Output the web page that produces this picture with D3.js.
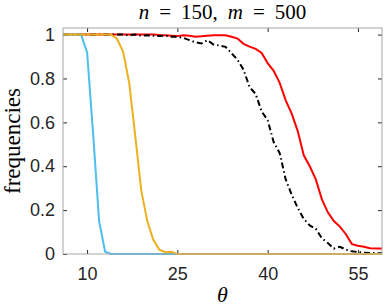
<!DOCTYPE html>
<meta charset="utf-8">
<style>
  body { margin: 0; background: #fff; }
  .tick text { font-family: "Liberation Sans", Arial, sans-serif; font-size: 18px; fill: #262626; }
  .tex { font-family: "Liberation Serif", "Times New Roman", serif; fill: #000; }
</style>
<script src="https://cdn.jsdelivr.net/npm/d3@7"></script>
<div id="chart"></div>
<script>

// theta values (x) shared by every curve
var theta = [6,7,8,9,10,11,12,13,14,15,16,17,18,19,20,21,22,23,24,25,26,27,28,29,30,31,32,
  33,34,35,36,37,38,39,40,41,42,43,44,45,46,47,48,49,50,51,52,53,54,55,56,57,58,59];

var blueFreq = [1,1,1,1,0.92,0.55,0.15,0.01,0,0,0,0,0,0,0,0,0,0,0,0,0,0,0,0,0,0,0,
  0,0,0,0,0,0,0,0,0,0,0,0,0,0,0,0,0,0,0,0,0,0,0,0,0,0,0];

var orangeFreq = [1,1,1,1,1,1,1,1,1,0.98,0.92,0.78,0.54,0.29,0.15,0.065,0.02,0.008,0.01,0,0,0,0,0,0,0,0,
  0,0,0,0,0,0,0,0,0,0,0,0,0,0,0,0,0,0,0,0,0,0,0,0,0,0,0];

var blackFreq = [1,1,1,1,1,1,1,1,1,1,1,0.997,1,0.995,0.997,0.995,0.993,0.995,0.99,0.99,0.985,0.975,0.965,0.96,0.974,0.955,0.95,
  0.944,0.915,0.885,0.84,0.76,0.73,0.65,0.61,0.51,0.46,0.34,0.27,0.21,0.16,0.13,0.115,0.072,0.05,0.025,0.033,0.02,0.012,0.009,0.006,0.005,0.004,0.003];

var redFreq = [1,1,1,1,1,1,1,1,1,1,1,1,1,1,1,1,0.998,0.997,0.995,0.993,0.997,0.995,0.99,0.992,0.995,0.997,0.997,
  0.997,0.99,0.982,0.958,0.945,0.935,0.916,0.87,0.835,0.78,0.7,0.64,0.56,0.45,0.4,0.34,0.25,0.19,0.15,0.125,
  0.09,0.045,0.038,0.033,0.026,0.025,0.025];

var xTicks = [10, 25, 40, 55];
var yTicks = [0, 0.2, 0.4, 0.6, 0.8, 1];

// plot box
var margin = {top: 28, right: 3, bottom: 53, left: 63},
  W = 385, H = 307,
  width = W - margin.left - margin.right,
  height = H - margin.top - margin.bottom;

var svg = d3.select("#chart")
.append("svg")
  .attr("width", W)
  .attr("height", H);

var g = svg.append("g")
  .attr("transform", "translate(" + margin.left + "," + margin.top + ")");

var x = d3.scaleLinear().domain([6, 59]).range([0, width]);
var y = d3.scaleLinear().domain([0, 1.03]).range([height, 0]);

// axes with inward ticks, MATLAB style
function styleAxis(sel) {
  sel.select(".domain").remove();
  sel.selectAll(".tick line").attr("stroke", "#262626");
}

g.append("g")
  .attr("transform", "translate(0," + height + ")")
  .call(d3.axisBottom(x).tickValues(xTicks).tickSizeInner(-4).tickSizeOuter(0).tickPadding(13))
  .call(styleAxis);

g.append("g")
  .call(d3.axisTop(x).tickValues(xTicks).tickSizeInner(-4).tickSizeOuter(0).tickFormat(""))
  .call(styleAxis);

g.append("g")
  .call(d3.axisLeft(y).tickValues(yTicks).tickSizeInner(-4).tickSizeOuter(0).tickPadding(8)
    .tickFormat(function(d) { return d3.format("~g")(d); }))
  .call(styleAxis);

g.append("g")
  .attr("transform", "translate(" + width + ",0)")
  .call(d3.axisRight(y).tickValues(yTicks).tickSizeInner(-4).tickSizeOuter(0).tickFormat(""))
  .call(styleAxis);

// curves: red first, then black, blue, orange on top
var series = [
  {vals: redFreq, color: "#ff0000", dash: null},
  {vals: blackFreq, color: "#000000", dash: "6,3,1.5,3"},
  {vals: blueFreq, color: "#4dbeee", dash: null},
  {vals: orangeFreq, color: "#edb120", dash: null}
];

var line = d3.line()
  .x(function(d) { return x(d[0]); })
  .y(function(d) { return y(d[1]); });

g.selectAll("path.curve")
  .data(series)
  .enter()
  .append("path")
    .attr("class", "curve")
    .attr("d", function(s) { return line(theta.map(function(t, i) { return [t, s.vals[i]]; })); })
    .attr("fill", "none")
    .attr("stroke", function(s) { return s.color; })
    .attr("stroke-width", 2)
    .attr("stroke-dasharray", function(s) { return s.dash; });

// box around the plot
g.append("rect")
  .attr("width", width)
  .attr("height", height)
  .attr("fill", "none")
  .attr("stroke", "#a6a6a6")
  .attr("stroke-width", 1);

// title, with math-like spacing around "=" and after the comma
var title = svg.append("text")
  .attr("class", "tex")
  .attr("x", margin.left + width / 2)
  .attr("y", 19)
  .attr("text-anchor", "middle")
  .style("font-size", "21px");
title.append("tspan").style("font-style", "italic").text("n");
title.append("tspan").attr("dx", 10).text("=");
title.append("tspan").attr("dx", 10).text("150,");
title.append("tspan").attr("dx", 10).style("font-style", "italic").text("m");
title.append("tspan").attr("dx", 10).text("=");
title.append("tspan").attr("dx", 10).text("500");

// y label
svg.append("text")
  .attr("class", "tex")
  .attr("transform", "translate(20," + (margin.top + height / 2) + ") rotate(-90)")
  .attr("text-anchor", "middle")
  .style("font-size", "23px")
  .text("frequencies");

// x label
svg.append("text")
  .attr("class", "tex")
  .attr("x", margin.left + width / 2)
  .attr("y", 302)
  .attr("text-anchor", "middle")
  .style("font-size", "22px")
  .style("font-style", "italic")
  .text("θ");

</script>
